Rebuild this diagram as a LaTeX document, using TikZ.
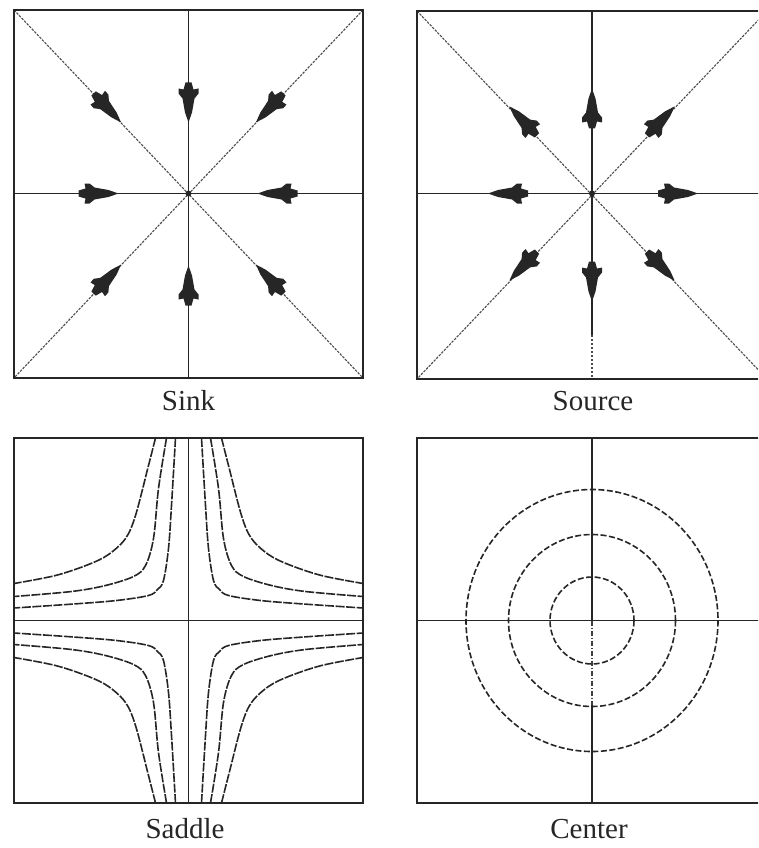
\documentclass[tikz,border=0pt]{standalone}
\usepackage{fontspec}
\setmainfont{Liberation Serif}
\newcommand\fisharrow[3]{\fill[arrowhead, shift={(#1,#2)}, rotate=#3]
  (0,0) -- (-10,-3.5) -- (-24,-6) -- (-29,-10) -- (-34,-10) -- (-33,-5) -- (-40,-3)
  -- (-40,3) -- (-33,5) -- (-34,10) -- (-29,10) -- (-24,6) -- (-10,3.5) -- cycle;}
\begin{document}
\begin{tikzpicture}[x=1pt,y=-1pt,
  frame/.style={line width=2.2pt, draw=black!85},
  axis/.style={line width=1.9pt, draw=black!85},
  thinaxis/.style={line width=1.5pt, draw=black!85},
  diag/.style={line width=1.1pt, draw=black!70, dash pattern=on 2.5pt off 1.2pt},
  traj/.style={line width=1.6pt, draw=black!85, dash pattern=on 9pt off 1.5pt},
  orbit/.style={line width=1.6pt, draw=black!85, dash pattern=on 6pt off 2.5pt},
  lab/.style={font=\fontsize{29}{29}\selectfont, anchor=base, inner sep=0pt, text=black!85},
  arrowhead/.style={fill=black!85}]
\useasboundingbox (0,0) rectangle (758,848);
\clip (0,0) rectangle (758,848);

% ---------------- Sink ----------------
\coordinate (c1) at (188.5,193.5);
\draw[diag] (14,10) -- (363,378);
\draw[diag] (363,10) -- (14,378);
\draw[axis] (188.5,10) -- (188.5,378);
\draw[axis] (14,193.5) -- (363,193.5);
\draw[frame] (14,10) rectangle (363,378);
\fill[black!85] (c1) circle (3);
\fisharrow{188.5}{122.5}{270}
\fisharrow{188.5}{265.5}{90}
\fisharrow{118.5}{193.5}{0}
\fisharrow{257.5}{193.5}{180}
\fisharrow{255.9}{122.4}{226.5}
\fisharrow{121.1}{122.4}{313.5}
\fisharrow{121.1}{264.6}{46.5}
\fisharrow{255.9}{264.6}{133.5}
\node[lab] (sink) at (188.5,410) {Sink};

% ---------------- Source ----------------
\coordinate (c2) at (592,193.5);
\draw[diag] (417,11) -- (767,379);
\draw[diag] (767,11) -- (417,379);
\draw[axis] (592,11) -- (592,335);
\draw[line width=1.4pt, draw=black!70, dash pattern=on 2pt off 2pt] (592,335) -- (592,379);
\draw[axis] (417,193.5) -- (767,193.5);
\draw[frame] (417,11) rectangle (767,379);
\fill[black!85] (c2) circle (3);
\fisharrow{592}{88.5}{90}
\fisharrow{592}{301.5}{270}
\fisharrow{488}{193.5}{180}
\fisharrow{698}{193.5}{0}
\fisharrow{674.6}{106.4}{46.5}
\fisharrow{509.4}{106.4}{133.5}
\fisharrow{509.4}{280.6}{226.5}
\fisharrow{674.6}{280.6}{313.5}
\node[lab] (source) at (593,410) {Source};

% ---------------- Saddle ----------------
\draw[thinaxis] (188.5,438) -- (188.5,803);
\draw[thinaxis] (14,620.5) -- (363,620.5);
\begin{scope}[shift={(188.5,620.5)}, yscale=-1]
  \foreach \sx/\sy in {1/1,-1/1,1/-1,-1/-1}{
    \begin{scope}[xscale=\sx, yscale=\sy]
      \draw[traj] plot[smooth, tension=0.55] coordinates
        {(13,182.5) (17,115) (20,72) (25,40) (31,31) (40,25) (72,20) (115,16.5) (174.5,12.5)};
      \draw[traj] plot[smooth, tension=0.55] coordinates
        {(22,182.5) (30,132) (35,82) (43,55) (55,44) (83,35) (117,29) (174.5,24)};
      \draw[traj] plot[smooth, tension=0.55] coordinates
        {(33,182.5) (40,155) (53,105) (63,82) (80,66) (100,56) (133,45) (174.5,37)};
    \end{scope}
  }
\end{scope}
\draw[frame] (14,438) rectangle (363,803);
\node[lab] (saddle) at (185,838) {Saddle};

% ---------------- Center ----------------
\coordinate (c4) at (592,620.5);
\draw[thinaxis] (592,438) -- (592,620.5);
\draw[line width=1.3pt, draw=black!75, dash pattern=on 5pt off 2pt on 1pt off 2pt] (592,620.5) -- (592,705);
\draw[thinaxis] (592,705) -- (592,803);
\draw[thinaxis] (417,620.5) -- (767,620.5);
\draw[orbit] (c4) ellipse [x radius=42, y radius=43.5];
\draw[orbit] (c4) ellipse [x radius=83.5, y radius=86];
\draw[orbit] (c4) ellipse [x radius=126, y radius=131];
\draw[frame] (417,438) rectangle (767,803);
\node[lab] (center) at (589,838) {Center};
\end{tikzpicture}
\end{document}
